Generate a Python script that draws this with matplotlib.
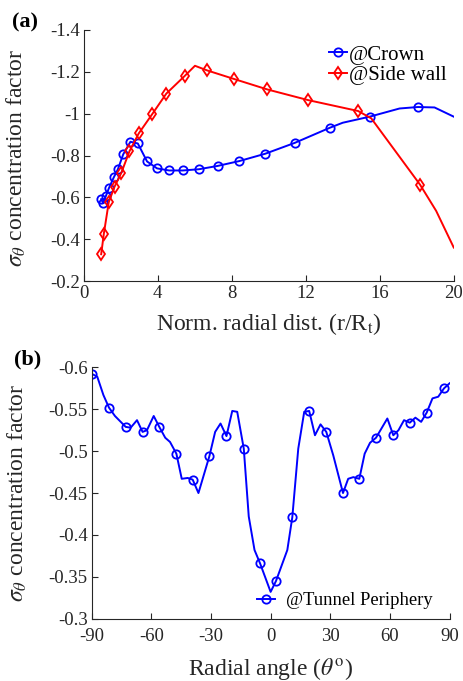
import matplotlib
matplotlib.use("Agg")
from matplotlib import pyplot as plt

plt.rcParams['font.family'] = ['Liberation Serif', 'DejaVu Serif']
plt.rcParams['mathtext.fontset'] = 'stix'
plt.rcParams['axes.unicode_minus'] = False

# (a) radial distance profiles
crown_x = [0.94, 1.04, 1.19, 1.35, 1.62, 1.84, 2.13, 2.52, 2.92, 3.42, 3.96, 4.61, 5.35,
           6.23, 7.25, 8.41, 9.81, 11.41, 13.30, 14.0, 15.46, 17.07, 18.06, 18.96, 20.0]
crown_y = [-0.592, -0.574, -0.606, -0.643, -0.696, -0.734, -0.806, -0.866, -0.858, -0.772,
           -0.739, -0.729, -0.729, -0.735, -0.751, -0.774, -0.809, -0.861, -0.933, -0.957,
           -0.986, -1.025, -1.032, -1.030, -0.986]
crown_marks = [0, 1, 2, 3, 4, 5, 6, 7, 8, 9, 10, 11, 12, 13, 14, 15, 16, 17, 18, 20, 22]

wall_x = [0.94, 1.08, 1.35, 1.66, 2.03, 2.47, 2.97, 3.69, 4.46, 5.45, 6.01, 6.66, 8.12,
          9.92, 12.13, 14.83, 15.54, 18.18, 19.05, 20.0]
wall_y = [-0.329, -0.425, -0.578, -0.651, -0.718, -0.821, -0.906, -0.997, -1.096, -1.180,
          -1.229, -1.207, -1.166, -1.116, -1.065, -1.013, -0.978, -0.661, -0.536, -0.361]
wall_marks = [0, 1, 2, 3, 4, 5, 6, 7, 8, 9, 11, 12, 13, 14, 15, 17]

a_xticks = [0, 4, 8, 12, 16, 20]
a_yticks = [-1.4, -1.2, -1.0, -0.8, -0.6, -0.4, -0.2]
a_ylabels = ['-1.4', '-1.2', '-1', '-0.8', '-0.6', '-0.4', '-0.2']

# (b) tunnel periphery
ang = [-89.7, -87.2, -84.1, -81.3, -78.3, -72.9, -70.4, -67.2, -64.4, -62.2, -58.8, -56.0,
       -53.0, -50.6, -47.4, -44.7, -41.7, -39.2, -36.3, -30.8, -27.9, -25.2, -22.2, -19.3,
       -16.8, -13.5, -11.0, -8.1, -5.3, 0.0, 2.7, 8.4, 10.9, 13.9, 16.9, 19.4, 22.3, 25.1,
       28.0, 31.5, 36.4, 39.0, 41.6, 44.6, 47.3, 50.0, 53.0, 58.7, 61.7, 64.3, 67.1, 70.0,
       72.8, 75.7, 78.5, 81.4, 84.3, 87.2, 90.0]
periph = [-0.592, -0.589, -0.567, -0.552, -0.542, -0.529, -0.528, -0.537, -0.523, -0.525,
          -0.542, -0.529, -0.516, -0.511, -0.497, -0.467, -0.468, -0.466, -0.450, -0.494,
          -0.523, -0.533, -0.518, -0.548, -0.547, -0.503, -0.422, -0.382, -0.366, -0.332,
          -0.345, -0.382, -0.421, -0.503, -0.547, -0.548, -0.519, -0.532, -0.523, -0.495,
          -0.450, -0.467, -0.469, -0.467, -0.497, -0.510, -0.516, -0.539, -0.519, -0.525,
          -0.537, -0.534, -0.540, -0.535, -0.546, -0.563, -0.565, -0.575, -0.581]
periph_marks = [0, 3, 5, 8, 11, 14, 17, 19, 22, 25, 28, 30, 32, 35, 38, 40, 43, 46, 48,
                51, 54, 57]

b_xticks = [-90, -60, -30, 0, 30, 60, 90]
b_yticks = [-0.6, -0.55, -0.5, -0.45, -0.4, -0.35, -0.3]
b_ylabels = ['-0.6', '-0.55', '-0.5', '-0.45', '-0.4', '-0.35', '-0.3']

grey = '#262626'

fig = plt.figure(figsize=(4.63, 6.81), dpi=100)
ax1 = fig.add_axes([0.181, 0.587, 0.799, 0.369])
ax2 = fig.add_axes([0.198, 0.0915, 0.773, 0.369])

ax1.plot(crown_x, crown_y, '-o', color='b', lw=1.4, ms=6, mfc='none', mew=1.3,
         markevery=crown_marks, label='@Crown')
ax1.plot(wall_x, wall_y, '-d', color='r', lw=1.4, ms=6, mfc='none', mew=1.3,
         markevery=wall_marks, label='@Side wall')
ax1.set_xlim(0, 20)
ax1.set_ylim(-0.2, -1.4)
ax1.set_xticks(a_xticks)
ax1.set_yticks(a_yticks)
ax1.set_yticklabels(a_ylabels)
ax1.set_xlabel('Norm. radial dist. (r/R$_{\\rm t}$)', fontsize=17, color=grey)
ax1.set_ylabel('$\\sigma_\\theta$ concentration factor', fontsize=17, color=grey)
ax1.xaxis.set_label_coords(0.5, -0.118)
ax1.yaxis.set_label_coords(-0.151, 0.49)
ax1.legend(loc='upper right', frameon=False, fontsize=15, handlelength=0.85,
           handletextpad=0.1, borderaxespad=0.2, labelspacing=0.05,
           bbox_to_anchor=(1.015, 0.99))
ax1.text(-0.16, 1.03, '(a)', transform=ax1.transAxes, fontsize=16, fontweight='bold',
         ha='center', va='center')

ax2.plot(ang, periph, '-o', color='b', lw=1.4, ms=6, mfc='none', mew=1.3,
         markevery=periph_marks, label='@Tunnel Periphery')
ax2.set_xlim(-90, 90)
ax2.set_ylim(-0.3, -0.6)
ax2.set_xticks(b_xticks)
ax2.set_yticks(b_yticks)
ax2.set_yticklabels(b_ylabels)
ax2.set_xlabel('Radial angle ($\\theta^{\\rm o}$)', fontsize=17, color=grey)
ax2.set_ylabel('$\\sigma_\\theta$ concentration factor', fontsize=17, color=grey)
ax2.xaxis.set_label_coords(0.5, -0.15)
ax2.yaxis.set_label_coords(-0.175, 0.5)
ax2.legend(loc='lower right', frameon=False, fontsize=13.4, handlelength=1.0,
           handletextpad=0.6, borderaxespad=0.1, bbox_to_anchor=(0.98, 0.0))
ax2.text(-0.18, 1.03, '(b)', transform=ax2.transAxes, fontsize=16, fontweight='bold',
         ha='center', va='center')

for ax in (ax1, ax2):
    ax.spines['top'].set_visible(False)
    ax.spines['right'].set_visible(False)
    ax.spines['left'].set_color(grey)
    ax.spines['bottom'].set_color(grey)
    ax.tick_params(direction='in', length=4, labelsize=13.5, colors=grey, pad=3)
ax2.tick_params(axis='x', pad=7)

fig.savefig('out.png', dpi=100)
